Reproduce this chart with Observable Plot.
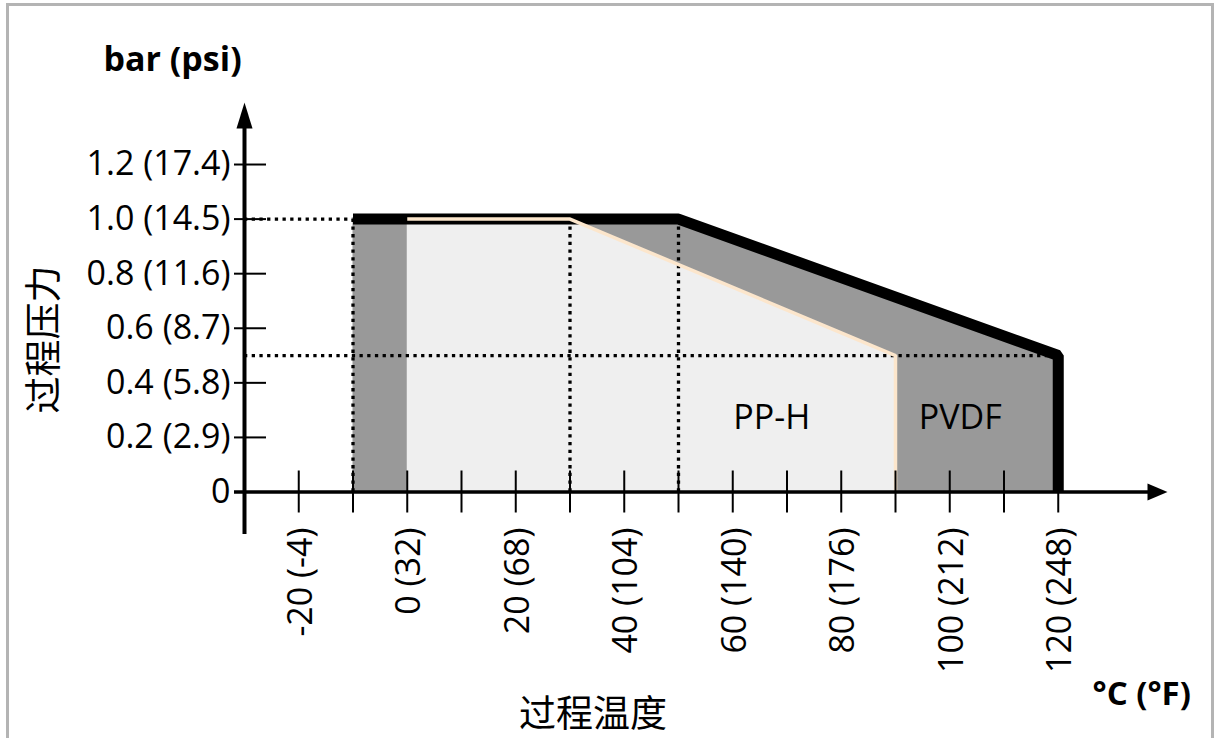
<!DOCTYPE html>
<html><head><meta charset="utf-8">
<script src="https://cdn.jsdelivr.net/npm/d3@7"></script>
<script src="https://cdn.jsdelivr.net/npm/@observablehq/plot@0.6"></script>
<style>
html,body{margin:0;padding:0;background:#fff;}
#wrap{position:relative;width:1216px;height:738px;overflow:hidden;background:#fff;}
#frame{position:absolute;left:6px;top:3px;width:1208px;height:800px;border:3px solid #b4b4b4;box-sizing:border-box;}
#chart{position:absolute;left:0;top:0;}
</style></head><body>
<div id="wrap"><div id="frame"></div><div id="chart"></div></div>
<script>
// ---- data ----
const tempTicksC   = [-20, -10, 0, 10, 20, 30, 40, 50, 60, 70, 80, 90, 100, 110, 120];
const tempLabelC   = [-20, 0, 20, 40, 60, 80, 100, 120];
const tempLabelF   = [-4, 32, 68, 104, 140, 176, 212, 248];
const pressureBar  = [0, 0.2, 0.4, 0.6, 0.8, 1.0, 1.2];
const pressurePsi  = [null, 2.9, 5.8, 8.7, 11.6, 14.5, 17.4];
const pvdfTemp     = [-10, 50, 120];
const pvdfPressure = [1.0, 1.0, 0.5];
const pphTemp      = [0, 30, 90];
const pphPressure  = [1.0, 1.0, 0.5];
const materials    = ["PP-H", "PVDF"];
const yTitle = "过程压力", xTitle = "过程温度", yUnit = "bar (psi)", xUnit = "°C (°F)";

// ---- layout ----
const W = 1216, H = 738;
const X0 = 244, PX = 5.425;         // pixel of -30°C, px per °C
const Y0 = 491.5, PY = 272.9;       // pixel of 0 bar, px per bar
const xMin = -30, xMax = 140;
const latin = "Open Sans, Liberation Sans, sans-serif";
const cjk = "Noto Sans CJK SC, sans-serif";
const FS = 34;

const pvdf = pvdfTemp.map((t, i) => ({t, p: pvdfPressure[i]}));
const pph  = pphTemp.map((t, i) => ({t, p: pphPressure[i]}));
const pvdfOutline = [...pvdf, {t: pvdfTemp[pvdfTemp.length - 1], p: 0}];
const pphOutline  = [...pph,  {t: pphTemp[pphTemp.length - 1], p: 0}];
const yLabels = pressureBar.map((p, i) => ({p, text: pressurePsi[i] == null ? String(p) : `${p.toFixed(1)} (${pressurePsi[i]})`}));
const xLabels = tempLabelC.map((c, i) => ({c, text: `${c} (${tempLabelF[i]})`}));
const pvdfEndT = pvdfTemp[pvdfTemp.length - 1];
const pvdfEndP = pvdfPressure[pvdfPressure.length - 1];

const dx = px => px / PX;   // pixel length -> °C
const dy = px => px / PY;   // pixel length -> bar

const arrowUp = {draw(c) { c.moveTo(0, -13); c.lineTo(8, 13); c.lineTo(-8, 13); c.closePath(); }};
const arrowRight = {draw(c) { c.moveTo(10, 0); c.lineTo(-10, -8.5); c.lineTo(-10, 8.5); c.closePath(); }};

const dotted = {stroke: "black", strokeWidth: 3.3, strokeDasharray: "3.3 4.4"};
const title = {frameAnchor: "top-left", lineAnchor: "middle", text: d => d, fill: "black"};

const chart = Plot.plot({
  width: W, height: H,
  marginTop: 0, marginRight: 0, marginBottom: 0, marginLeft: 0,
  x: {domain: [xMin, xMax], range: [X0, X0 + (xMax - xMin) * PX], axis: null},
  y: {domain: [0, 1.2], range: [Y0, Y0 - 1.2 * PY], axis: null},
  style: {background: "transparent", overflow: "visible"},
  marks: [
    // regions
    Plot.areaY(pvdf, {x: "t", y: "p", fill: "#999999", curve: "linear"}),
    Plot.areaY(pph, {x: "t", y: "p", fill: "#efefef", curve: "linear"}),
    // dotted guides
    Plot.ruleY([pvdfPressure[0]], {x1: xMin, x2: pvdfTemp[0], ...dotted}),
    Plot.ruleY([pvdfEndP], {x1: xMin, x2: pvdfEndT, ...dotted}),
    Plot.ruleX([pvdfTemp[0], pphTemp[1], pvdfTemp[1]], {y1: 0, y2: pvdfPressure[0], ...dotted}),
    // outlines
    Plot.line(pvdfOutline, {x: "t", y: "p", stroke: "black", strokeWidth: 11, strokeLinejoin: "miter", strokeLinecap: "butt", curve: "linear"}),
    Plot.line(pphOutline, {x: "t", y: "p", stroke: "#fce6cc", strokeWidth: 3.5, strokeLinejoin: "miter", strokeLinecap: "butt", curve: "linear"}),
    // axes
    Plot.ruleY([0], {x1: xMin - dx(10), x2: xMin + dx(1150 - X0), stroke: "black", strokeWidth: 3.5}),
    Plot.ruleX([xMin], {y1: -dy(42.5), y2: dy(Y0 - 126), stroke: "black", strokeWidth: 4}),
    Plot.dot([0], {x: xMin, y: dy(Y0 - 115), symbol: arrowUp, fill: "black", stroke: null}),
    Plot.dot([0], {x: xMin + dx(1157 - X0), y: 0, symbol: arrowRight, fill: "black", stroke: null}),
    Plot.ruleX(tempTicksC, {y1: -dy(21), y2: dy(21), stroke: "black", strokeWidth: 2}),
    Plot.ruleY(pressureBar.slice(1), {x1: xMin - dx(10), x2: xMin + dx(22), stroke: "black", strokeWidth: 2}),
    // tick labels
    Plot.text(yLabels, {x: xMin, y: "p", text: "text", textAnchor: "end", dx: -14, fontSize: FS, fontFamily: latin, fill: "black"}),
    Plot.text(xLabels, {x: "c", y: 0, text: "text", rotate: -90, textAnchor: "end", dy: 35.5, dx: 2, fontSize: FS, fontFamily: latin, fill: "black"}),
    // region labels
    Plot.text([materials[0]], {x: pphTemp[0] + dx(771.5 - 407), y: dy(Y0 - 417.5), text: d => d, fontSize: FS, fontFamily: latin, fill: "black"}),
    Plot.text([materials[1]], {x: pphTemp[0] + dx(960 - 407), y: dy(Y0 - 417.5), text: d => d, fontSize: FS, fontFamily: latin, fill: "black"}),
    // titles
    Plot.text([yUnit], {...title, dx: 103, dy: 59.5, textAnchor: "start", fontSize: FS, fontWeight: "bold", fontFamily: latin}),
    Plot.text([xUnit], {...title, dx: 1092, dy: 694, textAnchor: "start", fontSize: 33, fontWeight: "bold", fontFamily: latin}),
    Plot.text([xTitle], {...title, dx: 592.5, dy: 715, textAnchor: "middle", fontSize: 37, fontFamily: cjk}),
    Plot.text([yTitle], {...title, dx: 45, dy: 339, textAnchor: "middle", rotate: -90, fontSize: 37, fontFamily: cjk})
  ]
});
document.getElementById("chart").append(chart);
</script>
</body></html>
